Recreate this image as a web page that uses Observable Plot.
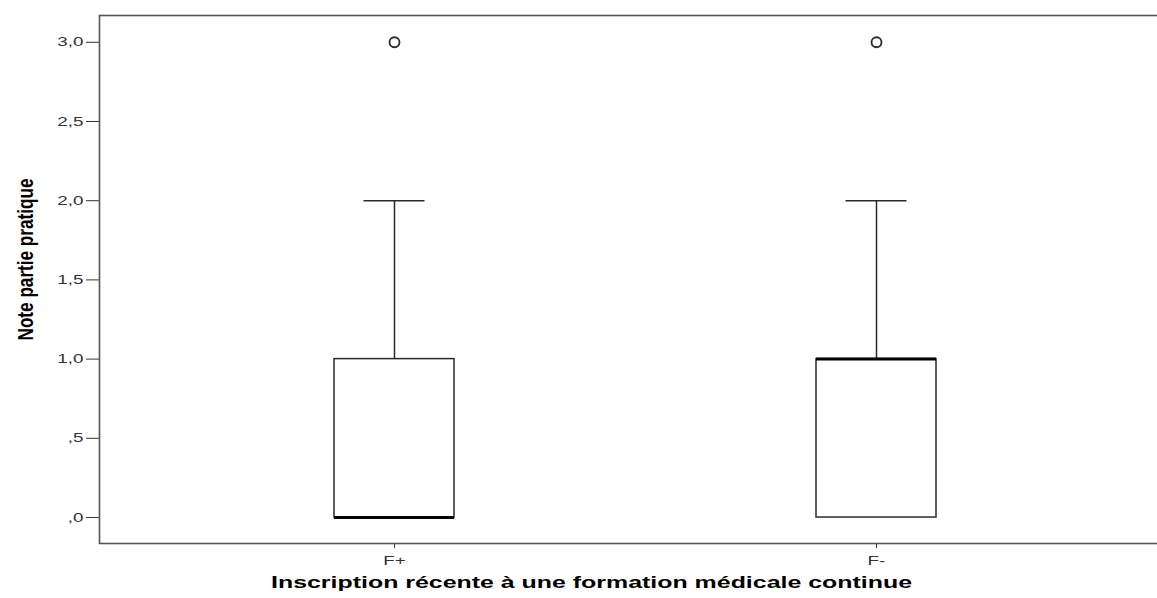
<!DOCTYPE html>
<html>
<head>
<meta charset="utf-8">
<script src="https://cdn.jsdelivr.net/npm/d3@7"></script>
<script src="https://cdn.jsdelivr.net/npm/@observablehq/plot@0.6"></script>
<style>
  html, body { margin: 0; padding: 0; background: #fff; overflow: hidden; }
  #chart { width: 1157px; height: 598px; overflow: hidden; }
  #chart svg { max-width: none !important; font-family: "Liberation Sans", Arial, sans-serif; }
</style>
</head>
<body>
<div id="chart"></div>
<script>
// ---- data ----
const categories = ["F+", "F-"];
const q1 = [0, 0];
const median = [0, 1];
const q3 = [1, 1];
const whiskerLow = [0, 0];
const whiskerHigh = [2, 2];
const outliers = [3, 3];
const yTicks = [0, 0.5, 1, 1.5, 2, 2.5, 3];
const yTickLabels = [",0", ",5", "1,0", "1,5", "2,0", "2,5", "3,0"];
const xTitle = "Inscription récente à une formation médicale continue";
const yTitle = "Note partie pratique";

const boxes = categories.map((c, i) => ({
  cat: c, q1: q1[i], median: median[i], q3: q3[i],
  lo: whiskerLow[i], hi: whiskerHigh[i], out: outliers[i]
}));

const ink = "#2a2a2a";

const plot = Plot.plot({
  width: 1162,
  height: 598,
  marginLeft: 99,
  marginRight: 0,
  marginTop: 15,
  marginBottom: 55,
  style: { background: "#fff", color: "#333", fontSize: "13px", maxWidth: "none" },
  x: {
    type: "band",
    domain: categories,
    range: [153, 1117],
    padding: 0,
    label: null,
    tickSize: 5,
    tickPadding: 7
  },
  y: {
    domain: [-0.164, 3.169],
    ticks: yTicks,
    tickFormat: d => yTickLabels[yTicks.indexOf(d)],
    label: null,
    tickSize: 13,
    tickPadding: 3
  },
  marks: [
    Plot.frame({ stroke: "#555", strokeWidth: 1.6 }),
    // whisker upper
    Plot.ruleX(boxes, { x: "cat", y1: "q3", y2: "hi", stroke: ink, strokeWidth: 1.5 }),
    // whisker lower (zero-length here)
    Plot.ruleX(boxes, { x: "cat", y1: "lo", y2: "q1", stroke: ink, strokeWidth: 1.5 }),
    // caps
    Plot.tickY(boxes, { x: "cat", y: "hi", stroke: ink, strokeWidth: 1.5, insetLeft: 210.5, insetRight: 210.5 }),
    // box
    Plot.barY(boxes, { x: "cat", y1: "q1", y2: "q3", fill: "#fff", stroke: ink, strokeWidth: 1.5, insetLeft: 181, insetRight: 181 }),
    // median
    Plot.tickY(boxes, { x: "cat", y: "median", stroke: "#000", strokeWidth: 3, insetLeft: 181, insetRight: 181 }),
    // outliers
    Plot.dot(boxes, { x: "cat", y: "out", r: 5, stroke: ink, strokeWidth: 1.8, fill: "none" }),
    // axis titles
    Plot.text([yTitle], { frameAnchor: "left", dx: -74, dy: -20, rotate: -90, text: d => d, fontSize: 22, fontWeight: "bold", fill: "#000", textAnchor: "middle" }),
    Plot.text([xTitle], { frameAnchor: "bottom", dx: -39.5, dy: 44, text: d => d, fontSize: 17, fontWeight: "bold", fill: "#000", textAnchor: "middle" })
  ]
});

document.getElementById("chart").appendChild(plot);

// stretch the text horizontally like the original (horizontally scaled picture)
plot.querySelectorAll('[aria-label$="tick label"] text').forEach(t => {
  const len = t.getComputedTextLength();
  t.setAttribute("textLength", (len * 1.45).toFixed(1));
  t.setAttribute("lengthAdjust", "spacingAndGlyphs");
});
plot.querySelectorAll('[aria-label="text"] text').forEach(t => {
  const s = t.textContent;
  if (s === xTitle) {
    t.setAttribute("textLength", "641");
  } else if (s === yTitle) {
    t.setAttribute("textLength", "162");
  }
  t.setAttribute("lengthAdjust", "spacingAndGlyphs");
});
</script>
</body>
</html>
